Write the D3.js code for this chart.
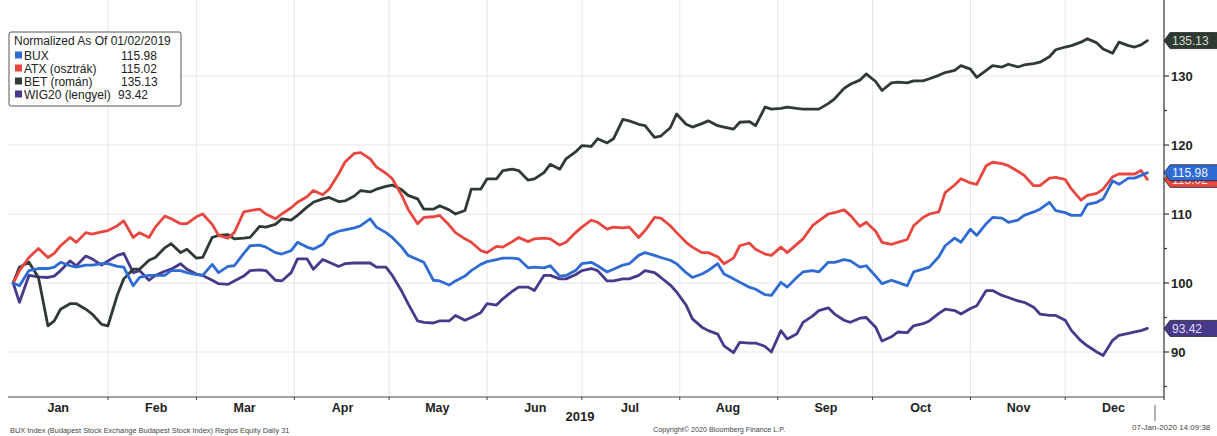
<!DOCTYPE html>
<html>
<head>
<meta charset="utf-8">
<script src="https://cdn.jsdelivr.net/npm/d3@7"></script>
<style>
  body { margin: 0; background: #fff; }
  svg { display: block; font-family: "Liberation Sans", Arial, sans-serif; }
  .grid line { stroke: #e6e6ee; stroke-width: 1; }
  .series { fill: none; stroke-width: 2.8; stroke-linejoin: round; stroke-linecap: round; }
</style>
</head>
<body>
<svg width="1217" height="436"></svg>
<script>
// Sample dates (2019), one row per month
const dates = [
  "01-02","01-04","01-07","01-10","01-13","01-15","01-17","01-20","01-22","01-25","01-27","01-30",
  "02-01","02-04","02-06","02-09","02-11","02-14","02-16","02-19","02-21","02-24","02-26",
  "03-01","03-03","03-06","03-08","03-11","03-13","03-16","03-18","03-21","03-23","03-26","03-28","03-31",
  "04-02","04-05","04-07","04-10","04-12","04-15","04-17","04-20","04-22","04-25","04-27","04-30",
  "05-02","05-05","05-07","05-10","05-12","05-15","05-17","05-20","05-22","05-25","05-27","05-30",
  "06-01","06-04","06-06","06-09","06-11","06-14","06-16","06-19","06-21","06-24","06-26","06-29",
  "07-01","07-04","07-06","07-09","07-11","07-14","07-16","07-19","07-21","07-24","07-26","07-29","07-31",
  "08-03","08-05","08-08","08-10","08-13","08-15","08-18","08-20","08-23","08-25","08-28","08-30",
  "09-02","09-04","09-07","09-09","09-12","09-14","09-17","09-19","09-22","09-24","09-27","09-29",
  "10-02","10-04","10-07","10-09","10-12","10-14","10-17","10-19","10-22","10-24","10-27","10-29",
  "11-01","11-03","11-06","11-08","11-11","11-13","11-16","11-18","11-21","11-23","11-26","11-28",
  "12-01","12-03","12-06","12-08","12-11","12-13","12-16","12-18","12-21","12-23","12-25","12-27"];

const bux = [
  100.0,99.6,101.8,102.1,102.1,102.3,103.0,102.5,102.3,102.6,102.6,102.8,
  102.8,102.4,102.3,99.6,100.8,101.1,101.1,101.1,101.8,101.8,101.5,
  101.2,101.1,102.7,101.5,102.4,102.5,104.3,105.4,105.5,105.2,104.4,104.2,104.7,
  105.9,105.2,104.9,105.6,106.9,107.5,107.7,108.0,108.3,109.3,108.1,107.3,
  106.6,105.2,104.0,103.4,103.0,100.4,100.3,99.7,100.3,101.0,101.8,102.7,
  103.1,103.4,103.6,103.6,103.5,102.2,102.3,102.2,102.5,101.0,101.1,101.8,
  102.8,103.0,102.5,101.6,102.0,102.6,102.8,104.0,104.4,104.0,103.7,103.3,102.8,
  101.5,100.8,101.3,101.8,102.8,101.3,100.6,100.1,99.4,99.1,98.3,98.2,
  100.1,99.4,100.8,101.6,101.8,101.6,103.0,103.0,103.4,103.2,102.3,102.5,
  101.0,99.9,100.4,100.1,99.6,101.6,102.0,102.3,103.8,105.4,106.5,105.9,
  107.8,106.9,108.6,109.5,109.4,108.8,109.1,109.8,110.3,110.7,111.7,110.5,
  110.2,109.8,109.8,111.4,111.7,112.2,114.8,114.3,115.2,115.2,115.6,115.98];

const atx = [
  100.0,101.8,103.7,105.0,103.7,104.3,105.4,106.6,105.9,107.3,107.1,107.4,
  107.6,108.3,109.0,106.6,107.3,106.6,108.1,109.7,109.3,108.6,108.6,
  109.6,110.0,108.5,106.9,106.5,107.3,110.3,110.5,110.7,110.0,109.3,110.0,110.9,
  111.7,112.5,113.4,112.8,113.6,115.8,117.5,118.8,118.9,118.0,116.8,115.9,
  115.1,112.7,110.7,108.6,109.5,109.6,109.8,108.4,107.3,106.4,105.9,104.7,
  104.4,105.3,105.2,106.0,106.6,106.0,106.4,106.5,106.4,105.5,105.9,107.3,
  108.1,109.1,108.8,107.8,108.1,108.0,108.1,106.6,107.6,109.5,109.4,108.3,107.3,
  105.9,105.2,104.4,104.4,103.8,102.8,103.6,105.4,105.8,104.9,104.2,104.0,
  105.2,104.4,105.6,106.4,108.3,109.0,110.0,110.2,110.6,109.8,108.2,108.8,
  107.5,105.9,105.6,105.9,106.3,108.3,109.5,110.0,110.3,113.1,114.2,115.1,
  114.5,114.3,117.0,117.5,117.3,117.0,116.2,115.6,114.1,114.1,115.2,115.3,
  115.0,113.6,112.0,112.7,113.0,113.6,115.4,115.8,115.8,115.8,116.3,115.02];

const bet = [
  100.0,102.3,103.0,100.8,93.8,94.5,96.2,97.0,97.0,96.2,95.5,94.0,
  93.8,98.3,100.6,102.0,102.0,103.3,103.7,105.1,105.7,104.4,104.9,
  103.6,103.7,106.6,106.9,107.0,106.4,106.5,106.6,108.2,108.1,108.5,109.3,109.1,
  109.8,111.0,111.7,112.2,112.4,111.8,111.9,112.6,113.4,113.2,113.6,114.0,
  114.2,113.5,112.7,112.2,110.7,110.7,111.2,110.6,110.0,110.5,113.6,113.6,
  115.1,115.1,116.3,116.5,116.3,114.9,115.1,116.0,117.2,116.5,118.0,119.0,
  119.9,119.8,120.9,120.3,120.9,123.7,123.5,123.0,122.8,121.1,121.3,122.5,124.5,
  123.0,122.6,123.1,123.5,122.8,122.6,122.3,123.3,123.4,122.8,125.5,125.2,
  125.3,125.5,125.3,125.2,125.2,125.2,126.0,126.7,128.2,128.8,129.4,130.3,
  129.2,127.9,129.0,129.1,129.0,129.3,129.3,129.6,130.1,130.5,130.8,131.5,
  131.0,129.8,130.8,131.5,131.3,131.7,131.3,131.6,131.8,132.0,132.8,133.8,
  134.2,134.4,134.9,135.4,134.8,133.9,133.3,134.9,134.4,134.2,134.5,135.13];

const wig20 = [
  100.0,97.2,101.1,100.9,100.8,101.0,101.8,103.2,102.5,103.9,103.5,102.6,
  103.2,104.0,104.3,101.5,101.8,100.4,101.1,101.7,102.0,102.8,102.0,
  101.3,101.1,100.4,99.9,99.8,100.3,101.0,101.8,101.9,101.8,100.4,100.3,101.5,
  103.5,103.5,102.0,103.4,103.0,102.4,102.8,102.9,102.9,102.9,102.3,102.3,
  101.1,98.8,97.0,94.5,94.3,94.2,94.5,94.5,95.3,94.6,95.0,95.7,
  97.0,96.8,97.7,98.8,99.4,99.4,98.9,101.1,101.1,100.6,100.6,101.2,
  101.8,102.1,101.8,100.3,100.3,100.6,100.6,101.1,101.8,101.5,100.8,99.7,98.7,
  96.8,94.8,93.6,93.1,92.6,90.9,89.9,91.4,91.3,91.3,90.8,90.0,
  93.1,91.9,92.6,94.3,95.2,96.0,96.4,95.5,94.6,94.3,94.9,95.0,
  93.6,91.6,92.2,92.9,92.8,93.8,94.1,94.5,95.6,96.2,96.0,95.5,
  96.3,96.7,98.9,98.9,98.2,97.9,97.4,97.2,96.5,95.5,95.3,95.3,
  94.6,93.1,91.6,90.9,90.0,89.5,91.7,92.4,92.7,92.9,93.1,93.42];

const seriesNames = ["BUX", "ATX (osztrák)", "BET (román)", "WIG20 (lengyel)"];
const lastValues = ["115.98", "115.02", "135.13", "93.42"];
const seriesColors = ["#2e6bd3", "#e8463f", "#2f3a33", "#473a8a"];
const tagText = ["#eef3ff", "#fbe9e8", "#d3ddd5", "#e2def5"];
const monthLabels = ["Jan","Feb","Mar","Apr","May","Jun","Jul","Aug","Sep","Oct","Nov","Dec"];
const yTicks = [90, 100, 110, 120, 130];

const svg = d3.select("svg");
const parse = d3.timeParse("%Y-%m-%d");
const dateObjs = dates.map(d => parse("2019-" + d));

const x = d3.scaleTime()
  .domain([new Date(2019, 0, 1), new Date(2019, 11, 31)])
  .range([10, 1160]);
const y = d3.scaleLinear().domain([90, 130]).range([352, 76]);

const axisX = 1164, axisY = 397;

// faint grid
const grid = svg.append("g").attr("class", "grid");
const monthStarts = d3.timeMonth.range(new Date(2019, 1, 1), new Date(2019, 11, 2));
grid.selectAll(".v").data(monthStarts).enter().append("line")
  .attr("x1", d => x(d)).attr("x2", d => x(d)).attr("y1", 0).attr("y2", axisY);
grid.selectAll(".h").data(yTicks).enter().append("line")
  .attr("x1", 8).attr("x2", axisX).attr("y1", d => y(d)).attr("y2", d => y(d));

// series lines
const all = [bux, atx, bet, wig20];
const line = d3.line().x((d, i) => x(dateObjs[i])).y(d => y(d));
const order = [3, 2, 1, 0];
svg.selectAll(".series").data(order).enter().append("path")
  .attr("class", "series")
  .attr("stroke", i => seriesColors[i])
  .attr("d", i => line(all[i]));

// right axis
svg.append("line").attr("x1", axisX).attr("x2", axisX).attr("y1", 0).attr("y2", axisY + 3)
  .attr("stroke", "#333").attr("stroke-width", 1.2);
const minor = d3.range(85, 140, 5);
svg.selectAll(".ytick").data(minor).enter().append("line")
  .attr("x1", axisX).attr("x2", d => axisX + (d % 10 === 0 ? 5 : 3))
  .attr("y1", d => y(d)).attr("y2", d => y(d))
  .attr("stroke", "#333").attr("stroke-width", 1.2);
svg.selectAll(".ylab").data(yTicks).enter().append("text")
  .attr("x", axisX + 7).attr("y", d => y(d) + 5)
  .attr("font-size", 13).attr("font-weight", "bold").attr("fill", "#222")
  .text(d => d);

// bottom axis
svg.append("line").attr("x1", 8).attr("x2", axisX).attr("y1", axisY).attr("y2", axisY)
  .attr("stroke", "#444").attr("stroke-width", 1.2);
svg.selectAll(".xtick").data(monthStarts).enter().append("line")
  .attr("x1", d => x(d)).attr("x2", d => x(d)).attr("y1", axisY).attr("y2", axisY + 3)
  .attr("stroke", "#444");
svg.selectAll(".xlab").data(monthLabels).enter().append("text")
  .attr("x", (d, i) => x(new Date(2019, i, 15)) + 4)
  .attr("y", axisY + 15)
  .attr("text-anchor", "middle").attr("font-size", 12.5).attr("font-weight", "bold").attr("fill", "#222")
  .text(d => d);
svg.append("text").attr("x", 580).attr("y", 421).attr("text-anchor", "middle")
  .attr("font-size", 13).attr("font-weight", "bold").attr("fill", "#222").text("2019");

// last-value tags on the right axis (ATX sits under BUX, as in the original)
svg.append("clipPath").attr("id", "atxclip").append("rect")
  .attr("x", -2).attr("y", y(115.98) + 8 - y(115.02)).attr("width", 70).attr("height", 20);
const tagOrder = [2, 3, 1, 0];
const tags = svg.selectAll(".tag").data(tagOrder).enter().append("g")
  .attr("transform", i => `translate(${axisX},${y(+lastValues[i])})`);
tags.append("path")
  .attr("d", "M0,0 L6,-8 L60,-8 L60,8 L6,8 Z")
  .attr("fill", i => seriesColors[i]).attr("stroke", "#222").attr("stroke-width", 0.8);
tags.append("text").attr("x", 8).attr("y", 4.5)
  .attr("clip-path", i => i === 1 ? "url(#atxclip)" : null)
  .attr("font-size", 12).attr("fill", i => tagText[i])
  .text(i => lastValues[i]);

// legend
const lg = svg.append("g").attr("transform", "translate(9,32)");
lg.append("rect").attr("width", 172).attr("height", 74).attr("rx", 2)
  .attr("fill", "#fff").attr("stroke", "#555").attr("stroke-width", 1);
lg.append("text").attr("x", 5).attr("y", 13).attr("font-size", 12).attr("fill", "#222")
  .text("Normalized As Of 01/02/2019");
const rows = lg.selectAll(".row").data(seriesNames).enter().append("g")
  .attr("transform", (d, i) => `translate(5,${27.5 + i * 13})`);
rows.append("rect").attr("x", 1).attr("y", -8).attr("width", 7).attr("height", 7)
  .attr("fill", (d, i) => seriesColors[i]);
rows.append("text").attr("x", 10).attr("font-size", 12).attr("fill", "#222").text(d => d);
rows.append("text").attr("x", (d, i) => i === 3 ? 104 : 107).attr("font-size", 12).attr("fill", "#222")
  .text((d, i) => lastValues[i]);

// footer
svg.append("text").attr("x", 10).attr("y", 433).attr("font-size", 7.4).attr("fill", "#444")
  .text("BUX Index (Budapest Stock Exchange Budapest Stock Index) Regios Equity  Daily 31");
svg.append("text").attr("x", 653).attr("y", 432).attr("font-size", 7.2).attr("fill", "#444")
  .text("Copyright© 2020 Bloomberg Finance L.P.");
svg.append("line").attr("x1", 1155).attr("x2", 1155).attr("y1", 405).attr("y2", 421)
  .attr("stroke", "#666");
svg.append("text").attr("x", 1132).attr("y", 430).attr("font-size", 8).attr("fill", "#444")
  .text("07-Jan-2020 14:09:38");
</script>
</body>
</html>
